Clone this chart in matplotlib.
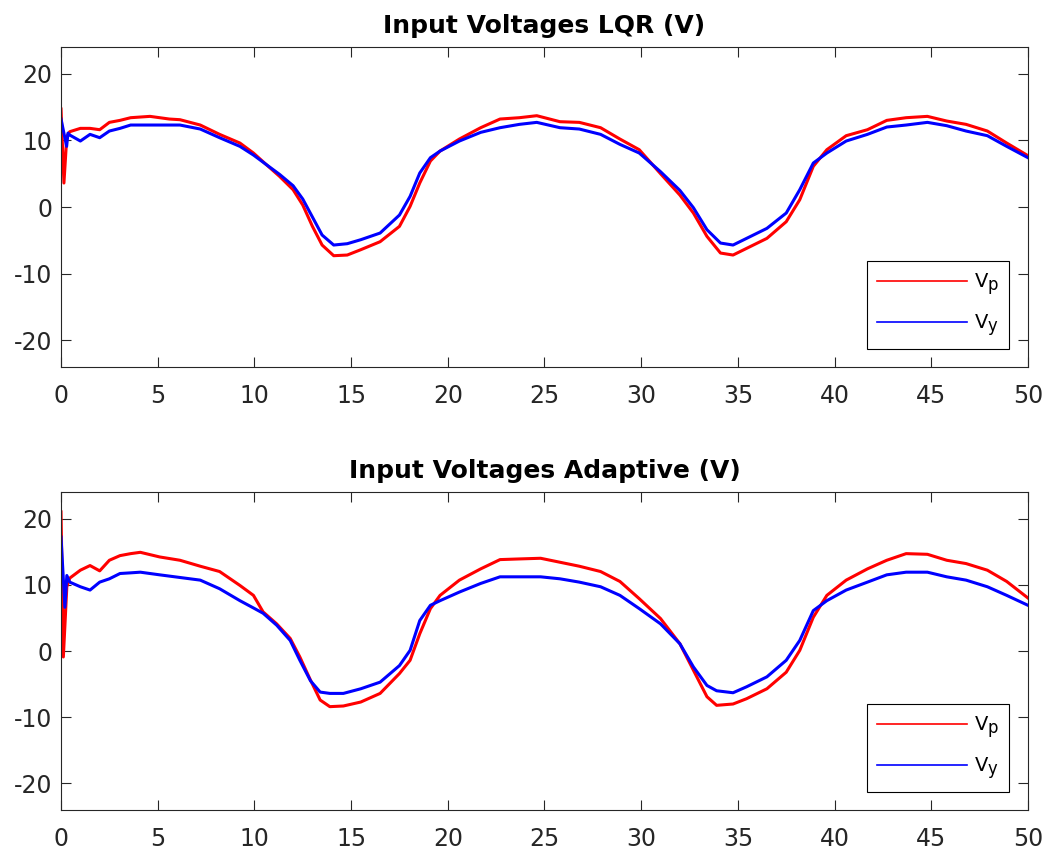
import numpy as np
import matplotlib
matplotlib.use("Agg")
import matplotlib.pyplot as plt
import matplotlib._mathtext as _mt

plt.rcParams['font.family'] = ['DejaVu Sans']
plt.rcParams['mathtext.fontset'] = 'dejavusans'
plt.rcParams['axes.unicode_minus'] = False
# larger subscripts in the legend labels
_mt.SHRINK_FACTOR = 0.85

# --- start-up transients (each channel has its own sample times) ---
t0_lqr_p = [0.0, 0.15, 0.30]
v0_lqr_p = [14.7, 3.6, 10.6]
t0_lqr_y = [0.0, 0.29, 0.36]
v0_lqr_y = [13.2, 9.1, 11.1]

t0_adp_p = [0.0, 0.12, 0.30]
v0_adp_p = [21.0, -0.9, 9.7]
t0_adp_y = [0.0, 0.20, 0.30]
v0_adp_y = [17.2, 6.6, 11.4]

# --- LQR run ---
t_lqr = [0.45, 1.0, 1.5, 2.0, 2.5, 3.05, 3.6, 4.6, 5.6, 6.15, 7.2, 8.2, 9.25, 9.95,
         10.6, 11.3, 12.0, 12.5, 13.0, 13.5, 14.1, 14.8, 15.5, 16.5, 17.5, 18.05,
         18.55, 19.1, 19.6, 20.6, 21.7, 22.7, 23.7, 24.6, 25.8, 26.8, 27.9, 28.9,
         29.9, 31.0, 32.0, 32.7, 33.4, 34.1, 34.75, 35.45, 36.5, 37.5, 38.2, 38.9,
         39.6, 40.6, 41.7, 42.7, 43.7, 44.8, 45.8, 46.8, 47.9, 48.9, 50.0]
vp_lqr = [11.3, 11.8, 11.8, 11.6, 12.7, 13.0, 13.4, 13.6, 13.2, 13.1, 12.3, 10.9, 9.6, 8.1,
          6.4, 4.6, 2.6, 0.3, -2.9, -5.7, -7.3, -7.2, -6.4, -5.2, -2.9, 0.1,
          3.6, 6.9, 8.4, 10.2, 11.9, 13.2, 13.4, 13.7, 12.8, 12.7, 11.9, 10.2,
          8.6, 5.0, 1.8, -0.9, -4.4, -6.9, -7.2, -6.2, -4.7, -2.2, 1.1, 6.1,
          8.6, 10.7, 11.6, 13.0, 13.4, 13.6, 12.9, 12.4, 11.4, 9.6, 7.7]
vy_lqr = [10.8, 9.9, 10.9, 10.4, 11.4, 11.8, 12.3, 12.3, 12.3, 12.3, 11.7, 10.4, 9.1, 7.8,
          6.4, 4.9, 3.2, 1.2, -1.5, -4.2, -5.7, -5.5, -4.9, -3.9, -1.2, 1.6,
          5.1, 7.4, 8.4, 9.9, 11.2, 11.9, 12.4, 12.7, 11.9, 11.7, 10.9, 9.4,
          8.1, 5.3, 2.5, -0.1, -3.4, -5.4, -5.7, -4.7, -3.2, -0.9, 2.6, 6.6,
          8.1, 9.9, 10.9, 12.0, 12.3, 12.7, 12.2, 11.4, 10.7, 9.1, 7.4]

# --- Adaptive run ---
t_adp = [0.45, 1.0, 1.5, 2.0, 2.5, 3.05, 3.6, 4.1, 5.1, 6.15, 7.2, 8.2, 9.25, 9.95,
         10.45, 11.15, 11.85, 12.35, 12.9, 13.4, 13.9, 14.6, 15.5, 16.5, 17.5, 18.05,
         18.55, 19.1, 19.6, 20.6, 21.7, 22.7, 23.7, 24.8, 25.8, 26.8, 27.9, 28.9,
         29.9, 31.0, 32.0, 32.7, 33.4, 33.9, 34.75, 35.45, 36.5, 37.5, 38.2, 38.9,
         39.6, 40.6, 41.7, 42.7, 43.7, 44.8, 45.8, 46.8, 47.9, 48.9, 50.0]
vp_adp = [11.0, 12.2, 12.9, 12.1, 13.7, 14.4, 14.7, 14.9, 14.2, 13.7, 12.8, 12.0, 9.9, 8.4,
          5.9, 4.1, 1.9, -0.9, -4.4, -7.4, -8.4, -8.3, -7.7, -6.4, -3.4, -1.4,
          2.6, 6.4, 8.4, 10.7, 12.4, 13.8, 13.9, 14.0, 13.4, 12.8, 12.0, 10.5,
          7.9, 4.9, 1.1, -2.9, -6.9, -8.2, -8.0, -7.2, -5.7, -3.2, 0.1, 5.1,
          8.4, 10.7, 12.4, 13.7, 14.7, 14.6, 13.7, 13.2, 12.2, 10.5, 8.0]
vy_adp = [10.4, 9.7, 9.2, 10.4, 10.9, 11.7, 11.8, 11.9, 11.5, 11.1, 10.7, 9.4, 7.6, 6.5,
          5.7, 3.9, 1.6, -1.4, -4.5, -6.2, -6.4, -6.4, -5.7, -4.7, -2.2, 0.1,
          4.6, 6.9, 7.6, 8.9, 10.2, 11.2, 11.2, 11.2, 10.9, 10.4, 9.7, 8.4,
          6.4, 4.1, 1.1, -2.4, -5.2, -6.0, -6.3, -5.4, -3.9, -1.4, 1.6, 6.1,
          7.6, 9.2, 10.4, 11.5, 11.9, 11.9, 11.2, 10.7, 9.7, 8.4, 6.9]

titles = ["Input Voltages LQR (V)", "Input Voltages Adaptive (V)"]
labels = ["V$_{\\mathrm{p}}$", "V$_{\\mathrm{y}}$"]
xticks = [0, 5, 10, 15, 20, 25, 30, 35, 40, 45, 50]
yticks = [-20, -10, 0, 10, 20]

panels = [
    ((t0_lqr_p + t_lqr, v0_lqr_p + vp_lqr), (t0_lqr_y + t_lqr, v0_lqr_y + vy_lqr)),
    ((t0_adp_p + t_adp, v0_adp_p + vp_adp), (t0_adp_y + t_adp, v0_adp_y + vy_adp)),
]

axis_col = '#262626'
fig = plt.figure(figsize=(10.45, 8.52), dpi=100)
positions = [[0.0584, 0.5692, 0.9253, 0.3756], [0.0584, 0.0493, 0.9253, 0.3732]]

for pos, title, (sp, sy) in zip(positions, titles, panels):
    ax = fig.add_axes(pos)
    ax.plot(sp[0], sp[1], color='#ff0000', lw=2.2, label=labels[0])
    ax.plot(sy[0], sy[1], color='#0000ff', lw=2.2, label=labels[1])
    ax.set_xlim(0, 50)
    ax.set_ylim(-24, 24)
    ax.set_xticks(xticks)
    ax.set_yticks(yticks)
    ax.tick_params(direction='in', length=7, width=0.8, top=True, right=True,
                   colors=axis_col, labelsize=17)
    ax.tick_params(axis='x', pad=12)
    ax.tick_params(axis='y', pad=6.5)
    for s in ax.spines.values():
        s.set_color(axis_col)
        s.set_linewidth(0.8)
    ax.set_title(title, fontsize=18, fontweight='bold', color='black', pad=10)
    leg = ax.legend(loc='lower right', fontsize=14, fancybox=False, framealpha=1,
                    edgecolor='black', handlelength=4.6, handletextpad=0.35,
                    borderaxespad=0.95, labelspacing=0.75, borderpad=0.55)
    leg.get_frame().set_linewidth(0.8)
    for h in leg.get_lines():
        h.set_linewidth(1.2)

fig.savefig('out.png', dpi=100)
